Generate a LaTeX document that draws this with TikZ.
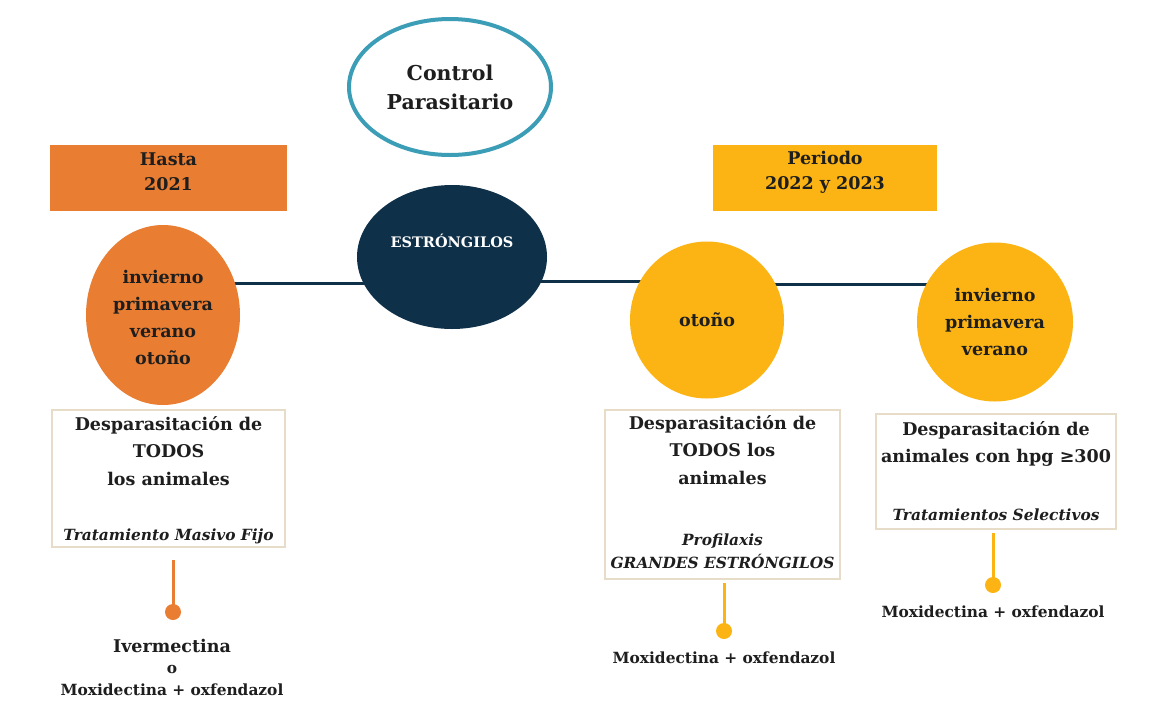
\documentclass[tikz,border=0pt]{standalone}
\usepackage{fontspec}
\setmainfont{DejaVu Serif}
\usetikzlibrary{shapes.geometric,backgrounds}
\definecolor{orangeC}{HTML}{E97D32}
\definecolor{yellowC}{HTML}{FBB414}
\definecolor{navyC}{HTML}{0E3049}
\definecolor{tealC}{HTML}{3C9DB6}
\definecolor{tanC}{HTML}{E6DCC8}
\definecolor{textC}{HTML}{1E1E1E}
\tikzset{
  lbl/.style={font=\bfseries\fontsize{17.5}{27.5}\selectfont, text=textC, align=center, inner sep=0pt},
  clbl/.style={font=\bfseries\fontsize{17.5}{27}\selectfont, text=textC, align=center, inner sep=0pt},
  slbl/.style={font=\bfseries\fontsize{15.4}{20}\selectfont, text=textC, align=center, inner sep=0pt},
  ilbl/.style={font=\bfseries\itshape\fontsize{15.4}{23}\selectfont, text=textC, align=center, inner sep=0pt},
  header/.style={font=\bfseries\fontsize{17.5}{25}\selectfont, text=textC, align=center, inner sep=0pt},
  period/.style={rectangle, draw=none, inner sep=0pt, minimum height=66pt},
  season/.style={ellipse, draw=none, inner sep=0pt},
  infobox/.style={rectangle, draw=tanC, line width=1.5pt, fill=white, inner sep=0pt},
  spine/.style={draw=navyC, line width=3pt},
  stem/.style={line width=3pt},
  dot/.style={circle, inner sep=0pt, minimum size=16pt},
}
\begin{document}
\begin{tikzpicture}[x=1pt,y=-1pt]
\useasboundingbox (0,0) rectangle (1174,710);
\begin{scope}[on background layer]
\fill[white] (0,0) rectangle (1174,710);
\end{scope}

% title ellipse
\node[ellipse, draw=tealC, line width=4pt, minimum width=202pt, minimum height=136pt, inner sep=0pt] (title) at (450,87) {};
\node[header, font=\bfseries\fontsize{20.5}{29}\selectfont] (titletxt) at (450,87) {Control\\Parasitario};

% period boxes
\node[period, fill=orangeC, minimum width=237pt] (hasta) at (168.5,178) {};
\node[header] (hastatxt) at (168.5,172) {Hasta\\2021};
\node[period, fill=yellowC, minimum width=224pt] (periodo) at (825,178) {};
\node[header] (periodotxt) at (825,172) {Periodo\\2022 y 2023};

% circles
\node[season, fill=orangeC, minimum width=154pt, minimum height=180pt] (c1) at (163,315) {};
\node[ellipse, fill=navyC, minimum width=190pt, minimum height=144pt, inner sep=0pt] (est) at (452,257) {};
\node[season, fill=yellowC, minimum width=154pt, minimum height=157pt] (c2) at (707,320) {};
\node[season, fill=yellowC, minimum width=156pt, minimum height=159pt] (c3) at (995,322) {};

% spine (behind the circles)
\begin{scope}[on background layer]
\draw[spine] (c1.center |- 0,283) -- (est.center |- 0,283);
\draw[spine] (est.center |- 0,281) -- (c2.center |- 0,281);
\draw[spine] (c2.center |- 0,284) -- (c3.center |- 0,284);
\end{scope}

% circle texts
\node[clbl] (c1txt) at (163,317) {invierno\\primavera\\verano\\otoño};
\node[font=\bfseries\fontsize{14.5}{16}\selectfont, text=white, inner sep=0pt] (esttxt) at (452,241) {ESTRÓNGILOS};
\node[clbl] (c2txt) at (707,320) {otoño};
\node[clbl] (c3txt) at (995,322) {invierno\\primavera\\verano};

% info boxes
\node[infobox, minimum width=233pt, minimum height=137pt] (b1) at (168.5,478.5) {};
\node[lbl, anchor=north] (b1txt) at (168.5,416) {Desparasitación de\\TODOS\\los animales};
\node[ilbl] (b1it) at (168.5,536) {Tratamiento Masivo Fijo};

\node[infobox, minimum width=235pt, minimum height=169pt] (b2) at (722.5,494.5) {};
\node[lbl, anchor=north] (b2txt) at (722.5,415) {Desparasitación de\\TODOS los\\animales};
\node[ilbl] (b2it) at (722.5,551) {Profilaxis\\GRANDES ESTRÓNGILOS};

\node[infobox, minimum width=240pt, minimum height=115pt] (b3) at (996,471.5) {};
\node[lbl, anchor=north] (b3txt) at (996,421) {Desparasitación de\\animales con hpg ≥300};
\node[ilbl] (b3it) at (996,515) {Tratamientos Selectivos};

% stems and dots
\node[dot, fill=orangeC] (d1) at (173,612) {};
\draw[stem, draw=orangeC] (173,560) -- (d1.center);
\node[lbl] (m1a) at (172,646) {Ivermectina};
\node[slbl] (m1b) at (172,669) {o};
\node[slbl] (m1c) at (172,690) {Moxidectina + oxfendazol};

\node[dot, fill=yellowC] (d2) at (724,631) {};
\draw[stem, draw=yellowC] (724,583) -- (d2.center);
\node[slbl] (m2) at (724,658) {Moxidectina + oxfendazol};

\node[dot, fill=yellowC] (d3) at (993,585) {};
\draw[stem, draw=yellowC] (993,533) -- (d3.center);
\node[slbl] (m3) at (993,612) {Moxidectina + oxfendazol};
\end{tikzpicture}
\end{document}
